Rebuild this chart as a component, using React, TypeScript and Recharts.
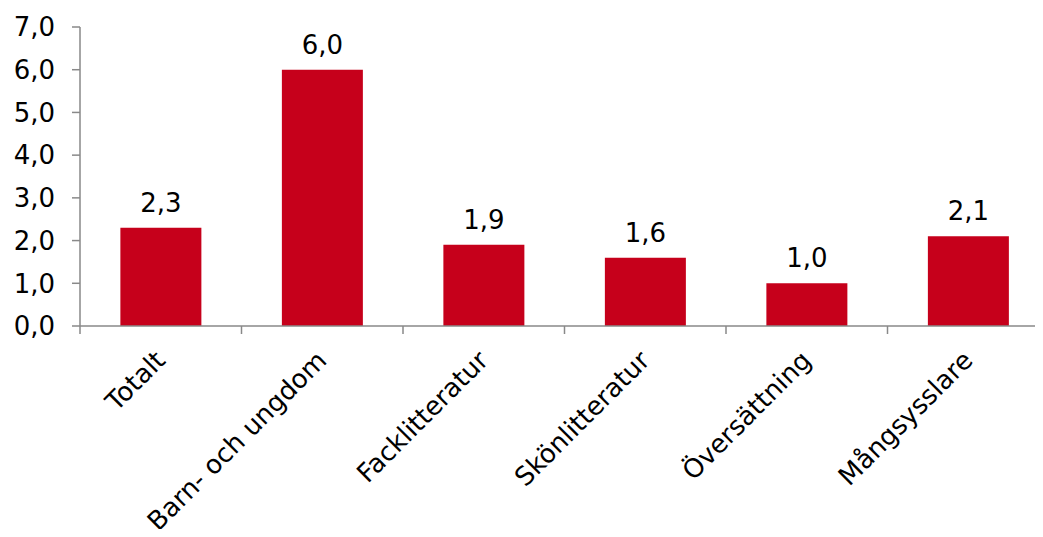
import React from "react";
import { Bar, BarChart, LabelList, XAxis, YAxis } from "recharts";

const categories = [
  "Totalt",
  "Barn- och ungdom",
  "Facklitteratur",
  "Skönlitteratur",
  "Översättning",
  "Mångsysslare",
];
const values = [2.3, 6.0, 1.9, 1.6, 1.0, 2.1];
const yTicks = [0, 1, 2, 3, 4, 5, 6, 7];

const data = categories.map((name, i) => ({ name, value: values[i] }));

const W = 1060;
const H = 529;
const MARGIN = { top: 19, right: 19, left: 0, bottom: 0 };
const Y_W = 72;
const X_H = 211;
const BAND = (W - MARGIN.left - MARGIN.right - Y_W) / categories.length;

const FONT = "'DejaVu Sans', Verdana, sans-serif";
const AXIS = "#898989";
const RED = "#C6001B";

const comma = (v: number) => v.toFixed(1).replace(".", ",");

function CategoryTick(props: any) {
  const { x, y, payload, index } = props;
  const left = x - BAND / 2;
  const last = index === categories.length - 1;
  return (
    <g>
      <line x1={left} x2={left} y1={y} y2={y + 8} stroke={AXIS} strokeWidth={1.5} />
      {last && (
        <line x1={x + BAND / 2} x2={x + BAND / 2} y1={y} y2={y + 8} stroke={AXIS} strokeWidth={1.5} />
      )}
      <text
        transform={`translate(${x + 6},${y + 36}) rotate(-45)`}
        textAnchor="end"
        fontSize={26}
        fontFamily={FONT}
        fill="#000"
      >
        {payload.value}
      </text>
    </g>
  );
}

export default function App() {
  return (
    <div style={{ width: 1035, height: H, overflow: "hidden", marginBottom: -8 }}>
      <BarChart width={W} height={H} data={data} margin={MARGIN} barCategoryGap="25%">
        <XAxis
          dataKey="name"
          interval={0}
          height={X_H}
          tickSize={0}
          tickMargin={0}
          tickLine={false}
          axisLine={{ stroke: AXIS, strokeWidth: 1.5 }}
          tick={<CategoryTick />}
        />
        <YAxis
          width={Y_W}
          domain={[0, 7]}
          ticks={yTicks}
          interval={0}
          tickFormatter={comma}
          tickSize={8}
          tickMargin={17}
          axisLine={{ stroke: AXIS, strokeWidth: 1.5 }}
          tickLine={{ stroke: AXIS, strokeWidth: 1.5 }}
          tick={{ fill: "#000", fontSize: 26, fontFamily: FONT }}
        />
        <Bar dataKey="value" fill={RED} isAnimationActive={false}>
          <LabelList
            dataKey="value"
            position="top"
            offset={16}
            formatter={(v: any) => comma(Number(v))}
            fill="#000"
            fontSize={26}
            fontFamily={FONT}
          />
        </Bar>
      </BarChart>
    </div>
  );
}
